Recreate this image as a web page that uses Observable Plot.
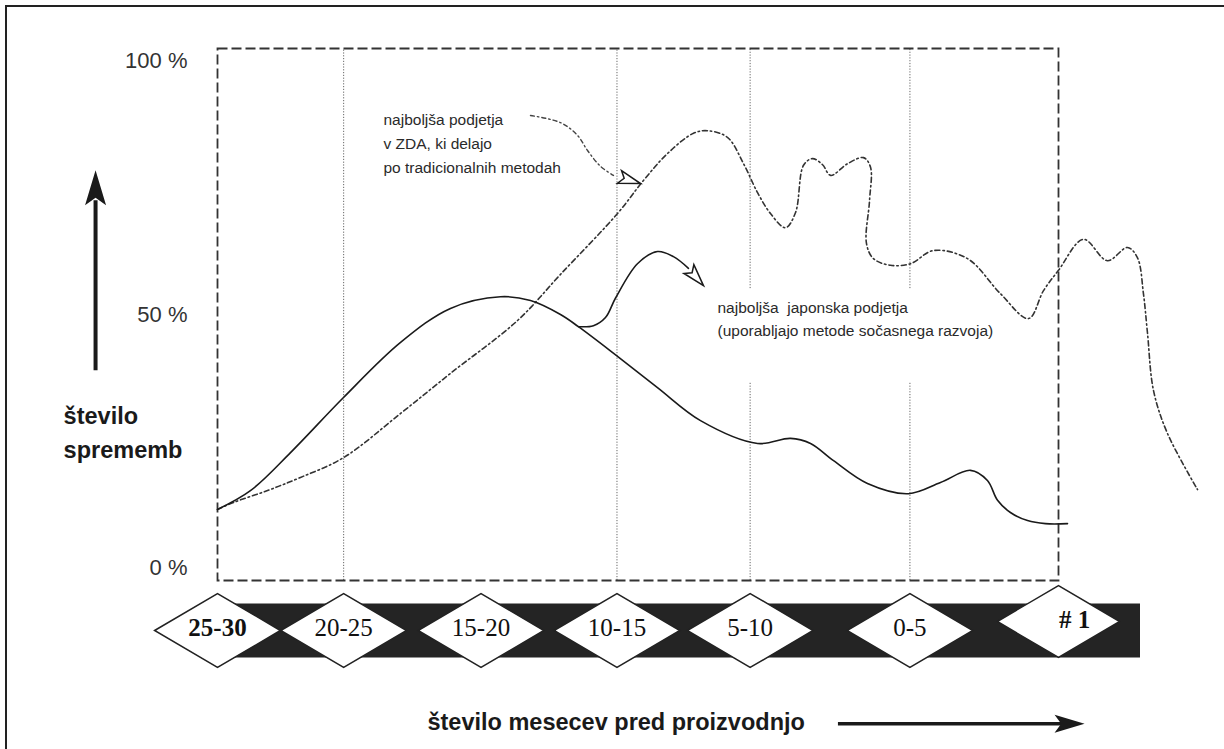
<!DOCTYPE html>
<html>
<head>
<meta charset="utf-8">
<script src="https://cdn.jsdelivr.net/npm/d3@7"></script>
<script src="https://cdn.jsdelivr.net/npm/@observablehq/plot@0.6"></script>
<style>
  html, body { margin: 0; padding: 0; background: #fff; overflow: hidden; }
  #wrap { position: relative; width: 1224px; height: 749px; }
  #border { position: absolute; left: 5px; top: 5px; width: 1400px; height: 900px;
            border-left: 2px solid #222; border-top: 2px solid #222; pointer-events: none; }
</style>
</head>
<body>
<div id="wrap"><div id="chart"></div><div id="border"></div></div>
<script>
// ---- data ----
const stageLabels = ["25-30", "20-25", "15-20", "10-15", "5-10", "0-5", "# 1"];
const stagePos    = [0, 0.9, 1.88, 2.85, 3.8, 4.94, 6];
const gridStages  = ["20-25", "10-15", "5-10", "0-5"];
const yTicks = [0, 50, 100];

// najboljša japonska podjetja (solid)
const japanX = [0, 0.235, 0.521, 0.899, 1.306, 1.662, 2.019, 2.233, 2.447, 2.575, 2.847, 3.139, 3.446, 3.853, 4.088, 4.231, 4.395, 4.637, 4.93, 5.158, 5.372, 5.493, 5.565, 5.657, 5.779, 5.907, 6.064];
const japanY = [11.6, 15.3, 22.8, 33.65, 44.5, 51.2, 53.5, 52.75, 50.0, 47.6, 41.9, 35.6, 29.1, 24.6, 25.6, 24.6, 21.2, 16.7, 14.7, 16.9, 19.3, 17.3, 13.4, 11.0, 9.4, 8.8, 8.8];
// pointer from the Japanese curve to its label
const japanPointerX = [2.575, 2.682, 2.768, 2.839, 2.996, 3.139, 3.253, 3.36];
const japanPointerY = [47.6, 47.8, 49.4, 53.2, 60.0, 62.4, 61.4, 59.1];

// najboljša podjetja v ZDA (dash-dot)
const usaX = [0, 0.114, 0.357, 0.592, 0.899, 1.306, 1.662, 2.14, 2.447, 2.854, 3.039, 3.21, 3.396, 3.496, 3.638, 3.753, 3.853, 3.945, 4.052, 4.124, 4.181, 4.245, 4.317, 4.374, 4.495, 4.609, 4.659, 4.652, 4.63, 4.68, 4.801, 4.944, 5.108, 5.351, 5.586, 5.786, 5.893, 6.0, 6.178, 6.349, 6.492, 6.563, 6.606, 6.635, 6.678, 6.777, 6.992];
const usaY = [11.6, 12.97, 15.33, 17.9, 21.8, 30.5, 38.4, 48.8, 57.9, 69.9, 76.4, 81.7, 85.7, 86.2, 84.9, 79.7, 74.0, 69.9, 67.1, 70.1, 79.4, 80.7, 79.5, 77.4, 79.7, 80.9, 79.0, 72.5, 64.0, 61.0, 59.7, 60.0, 62.6, 61.0, 54.1, 49.2, 54.7, 58.7, 64.8, 60.6, 63.2, 61.2, 54.1, 46.3, 35.0, 26.6, 15.5];
// pointer from the US label to its curve
const usaPointerX = [2.233, 2.447, 2.568, 2.64, 2.732, 2.825];
const usaPointerY = [89.2, 87.8, 85.3, 82.3, 79.2, 77.4];

const usaLabel = "najboljša podjetja\nv ZDA, ki delajo\npo tradicionalnih metodah";
const japanLabel = "najboljša\u00a0 japonska podjetja\n(uporabljajo metode sočasnega razvoja)";
const yTitle = "število\nsprememb";
const xTitle = "število mesecev pred proizvodnjo";

// ---- symbols ----
const diamondSymbol = {
  draw(ctx, size) {
    const r = Math.sqrt(size / Math.PI), w = r * 1.7;
    ctx.moveTo(-w, 0); ctx.lineTo(0, -r); ctx.lineTo(w, 0); ctx.lineTo(0, r); ctx.closePath();
  }
};
const headSymbol = {
  draw(ctx, size) {
    const r = Math.sqrt(size / Math.PI), L = 2 * r, W = 0.6 * r;
    ctx.moveTo(0, 0); ctx.lineTo(W, L); ctx.lineTo(0, 0.78 * L); ctx.lineTo(-W, L); ctx.closePath();
  }
};

const posOf = Object.fromEntries(stageLabels.map((s, i) => [s, stagePos[i]]));
const stages = stageLabels.map((s, i) => ({label: s, x: stagePos[i]}));
const lastStage = stages[stages.length - 1];
const gridFull = gridStages.slice(0, 2).map(s => ({x: posOf[s], y1: -2.4, y2: 102.4}));
const gridSplit = gridStages.slice(2).flatMap(s => [
  {x: posOf[s], y1: -2.4, y2: 36.6},
  {x: posOf[s], y1: 55.1, y2: 102.4}
]);
const idx = a => d3.range(a.length);

const bandLevel = -12.25;
const serif = "'Liberation Serif', 'Times New Roman', serif";
const sans = "'Liberation Sans', Arial, sans-serif";

const chart = Plot.plot({
  width: 1224,
  height: 749,
  marginLeft: 217,
  marginRight: 166,
  marginTop: 48,
  marginBottom: 169,
  x: {domain: [0, 6], axis: null},
  y: {domain: [-2.4, 102.4]},
  style: {background: "white", fontFamily: sans, overflow: "visible"},
  marks: [
    // grid (dotted verticals)
    Plot.ruleX([...gridFull, ...gridSplit], {x: "x", y1: "y1", y2: "y2", stroke: "#666", strokeWidth: 1, strokeDasharray: "1.2,1.6"}),
    // dashed frame
    Plot.frame({stroke: "#333", strokeWidth: 1.8, strokeDasharray: "10,4"}),
    // y axis labels
    Plot.axisY(yTicks, {tickSize: 0, tickPadding: 30, label: null, tickFormat: d => `${d} %`, fontSize: 22, fontFamily: sans, fill: "#333"}),
    // curves
    Plot.line(idx(usaX), {x: usaX, y: usaY, curve: "catmull-rom", stroke: "#333", strokeWidth: 1.6, strokeDasharray: "5,3,1.5,3"}),
    Plot.line(idx(japanX), {x: japanX, y: japanY, curve: "catmull-rom", stroke: "#1a1a1a", strokeWidth: 1.6}),
    Plot.line(idx(japanPointerX), {x: japanPointerX, y: japanPointerY, curve: "catmull-rom", stroke: "#1a1a1a", strokeWidth: 1.6}),
    Plot.line(idx(usaPointerX), {x: usaPointerX, y: usaPointerY, curve: "catmull-rom", stroke: "#444", strokeWidth: 1.4, strokeDasharray: "4,3,1.5,3"}),
    // open arrowheads of the pointers
    Plot.dot([0], {x: 3.467, y: 55.7, symbol: headSymbol, r: 11, rotate: 138.6, fill: "white", stroke: "#1a1a1a", strokeWidth: 1.5}),
    Plot.dot([0], {x: 3.018, y: 75.8, symbol: headSymbol, r: 11, rotate: 107.6, fill: "white", stroke: "#1a1a1a", strokeWidth: 1.5}),
    // annotation labels
    Plot.text([usaLabel], {x: 1.184, y: 84.1, text: d => d, textAnchor: "start", lineAnchor: "middle", lineHeight: 1.55, fontSize: 15.5, fontFamily: sans, fill: "#2a2a2a"}),
    Plot.text([japanLabel], {x: 3.567, y: 49.5, text: d => d, textAnchor: "start", lineAnchor: "middle", lineHeight: 1.48, fontSize: 15.5, fontFamily: sans, fill: "#2a2a2a"}),
    // vertical axis title and arrow
    Plot.ruleX([-0.87], {y1: 38.9, y2: 72.4, stroke: "#1a1a1a", strokeWidth: 4}),
    Plot.dot([0], {x: -0.87, y: 78.4, symbol: headSymbol, r: 17.5, rotate: 0, fill: "#1a1a1a", stroke: "none"}),
    Plot.text([yTitle], {x: -1.098, y: 27.3, text: d => d, textAnchor: "start", lineAnchor: "middle", lineHeight: 1.45, fontSize: 23.5, fontWeight: "bold", fontFamily: sans, fill: "#1a1a1a"}),
    // stage band with diamonds
    Plot.ruleY([bandLevel], {x1: 0, x2: 6.585, stroke: "#242424", strokeWidth: 54}),
    Plot.dot(stages.slice(0, -1), {x: "x", y: bandLevel, symbol: diamondSymbol, r: 37, fill: "white", stroke: "#222", strokeWidth: 1.5}),
    Plot.dot([lastStage], {x: "x", y: bandLevel, dy: -9, symbol: diamondSymbol, r: 36, fill: "white", stroke: "#222", strokeWidth: 1.5}),
    Plot.text(stages.filter(d => d.label === "25-30"), {x: "x", y: bandLevel, text: "label", dy: -3, fontSize: 25, fontWeight: "bold", fontFamily: serif, fill: "#111"}),
    Plot.text(stages.filter(d => d.label !== "25-30" && d.label !== "# 1"), {x: "x", y: bandLevel, text: "label", dy: -3, fontSize: 25, fontFamily: serif, fill: "#111"}),
    Plot.text([lastStage], {x: "x", y: bandLevel, text: "label", dx: 16, dy: -11, fontSize: 25, fontWeight: "bold", fontFamily: serif, fill: "#111"}),
    // horizontal axis title and arrow
    Plot.text([xTitle], {x: 1.498, y: -30.4, text: d => d, textAnchor: "start", fontSize: 23.5, fontWeight: "bold", fontFamily: sans, fill: "#1a1a1a"}),
    Plot.ruleY([-30.6], {x1: 4.43, x2: 6.1, stroke: "#1a1a1a", strokeWidth: 3.5}),
    Plot.dot([0], {x: 6.186, y: -30.6, symbol: headSymbol, r: 15, rotate: 90, fill: "#1a1a1a", stroke: "none"})
  ]
});
document.getElementById("chart").appendChild(chart);
</script>
</body>
</html>
